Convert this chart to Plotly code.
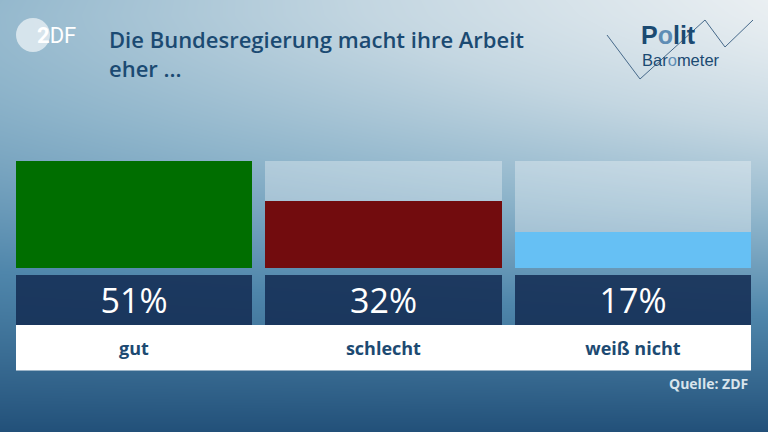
import numpy as np
import plotly.graph_objects as go

# ---- data ----
categories = ["gut", "schlecht", "weiß nicht"]
values = [51, 32, 17]
value_labels = ["51%", "32%", "17%"]
bar_colors = ["#006e00", "#720c0e", "#66c0f4"]
title_text = "Die Bundesregierung macht ihre Arbeit<br>eher ..."
source_text = "Quelle: ZDF"

W, H = 768, 432
vmax = max(values)

fig = go.Figure()

# ---- background gradient (style only) ----
gx = np.linspace(0, W, 40)
gy = np.linspace(0, H, 30)
X, Y = np.meshgrid(gx / W, gy / H)
T = 1 - Y ** 1.35 - 0.38 * (1 - X) * (1 - Y) ** 1.2
T = np.clip(T, 0, 1)
fig.add_trace(go.Heatmap(
    x=gx, y=gy, z=T, zsmooth="best", showscale=False, hoverinfo="skip",
    zmin=0, zmax=1,
    colorscale=[[0, "#225079"], [0.35, "#4f86ab"], [0.6, "#8fb5cb"],
                [0.8, "#c3d6e1"], [1, "#eaeff2"]],
    xaxis="x", yaxis="y"))

# ---- panels ----
pos = [0, 1, 2]
bw = 236 / 249
common = dict(x=pos, xaxis="x2", hoverinfo="skip", showlegend=False)

fig.add_trace(go.Bar(y=[vmax] * 3, width=bw, marker=dict(color="rgba(255,255,255,0.32)", line=dict(width=0)),
                     yaxis="y2", **common))
fig.add_trace(go.Bar(y=values, width=bw, marker=dict(color=bar_colors, line=dict(width=0)),
                     yaxis="y2", **common))
fig.add_trace(go.Bar(y=[1] * 3, width=bw, marker=dict(color="rgba(20,46,84,0.88)", line=dict(width=0)),
                     text=value_labels, textposition="inside", insidetextanchor="middle",
                     textangle=0, constraintext="none",
                     textfont=dict(family="Open Sans", size=34, color="white"),
                     yaxis="y3", **common))
fig.add_trace(go.Bar(y=[1] * 3, width=1.0, marker=dict(color="white", line=dict(width=0)),
                     text=categories, textposition="inside", insidetextanchor="middle",
                     textangle=0, constraintext="none",
                     textfont=dict(family="Open Sans", size=18, color="#1d4a72", weight="bold"),
                     yaxis="y4", **common))

def yd(top, bottom):
    return [1 - bottom / H, 1 - top / H]

hidden = dict(visible=False, showgrid=False, zeroline=False, fixedrange=True)
fig.update_layout(
    width=W, height=H, margin=dict(l=0, r=0, t=0, b=0),
    paper_bgcolor="#8fb0c5", plot_bgcolor="rgba(0,0,0,0)",
    barmode="overlay", bargap=0, showlegend=False,
    xaxis=dict(range=[0, W], domain=[0, 1], **hidden),
    yaxis=dict(range=[H, 0], domain=[0, 1], **hidden),
    xaxis2=dict(range=[-0.5 * bw, 2 + 0.5 * bw], domain=[16 / W, 751 / W], anchor="y2", **hidden),
    yaxis2=dict(range=[0, vmax], domain=yd(161, 268), anchor="x2", **hidden),
    yaxis3=dict(range=[0, 1], domain=yd(275, 325), anchor="x2", **hidden),
    yaxis4=dict(range=[0, 1], domain=yd(325, 370.5), anchor="x2", **hidden),
)

# ---- ZDF logo ----
fig.add_shape(type="circle", xref="x", yref="y", x0=16, x1=50, y0=18, y1=52,
              fillcolor="rgba(235,242,246,0.75)", line=dict(width=0), layer="above")
fig.add_annotation(x=35, y=35, xref="x", yref="y", xanchor="left", yanchor="middle",
                   text="<b>2</b>DF", showarrow=False,
                   font=dict(family="Roboto", size=22, color="white"))

# ---- title ----
fig.add_annotation(x=107 / W, y=1 - 22 / H, xref="paper", yref="paper", xanchor="left", yanchor="top",
                   align="left", text=title_text, showarrow=False,
                   font=dict(family="Open Sans", size=22, color="#1b4a72", weight=600))

# ---- Politbarometer logo ----
fig.add_shape(type="path", xref="x", yref="y",
              path="M 607 35 L 640 79 L 705 20 L 725 47 L 753 20",
              line=dict(color="#46698a", width=1), layer="above")
fig.add_annotation(x=639, y=35, xref="x", yref="y", xanchor="left", yanchor="middle",
                   text="<b>P<span style='color:#5f8db5'>o</span>lit</b>", showarrow=False,
                   font=dict(family="Liberation Sans", size=25, color="#1b4a72"))
fig.add_annotation(x=640, y=59.5, xref="x", yref="y", xanchor="left", yanchor="middle",
                   text="Bar<span style='color:#5f8db5'>o</span>meter", showarrow=False,
                   font=dict(family="Liberation Sans", size=16.5, color="#1b4a72"))

# ---- source ----
fig.add_annotation(x=750 / W, y=1 - 383 / H, xref="paper", yref="paper", xanchor="right", yanchor="middle",
                   text=source_text, showarrow=False,
                   font=dict(family="Open Sans", size=14, color="#d8e4ec", weight="bold"))

fig.write_html("out.html", config={"displayModeBar": False},
               post_script="document.body.style.margin='0';")
